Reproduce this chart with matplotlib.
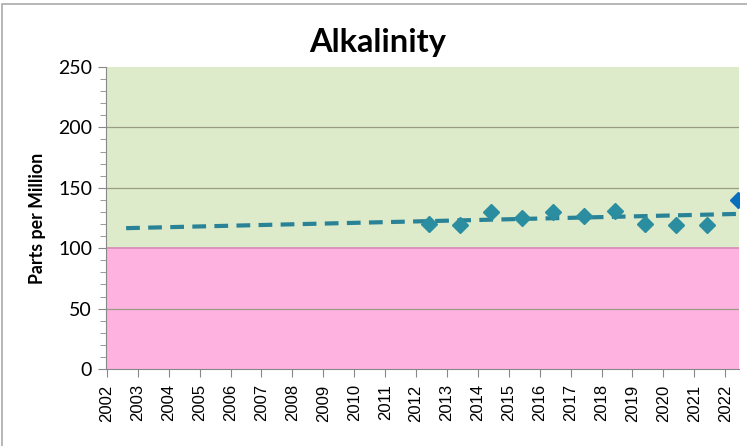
import matplotlib.pyplot as plt
from matplotlib.patches import Rectangle
from matplotlib.ticker import MultipleLocator

# sample dates (decimal year) and alkalinity values
dates = [2012.42, 2013.42, 2014.42, 2015.42, 2016.42, 2017.42,
         2018.42, 2019.42, 2020.42, 2021.42, 2022.42]
values = [120, 119, 130, 125, 130, 127, 131, 120, 119, 119, 140]

# trend line end points
trend_x = [2002.62, 2022.45]
trend_y = [116.6, 128.4]

years = list(range(2002, 2023))

# bands
good_range = (100, 250)
bad_range = (0, 100)

fig = plt.figure(figsize=(7.47, 4.46), dpi=100)
ax = fig.add_axes([0.1419, 0.1726, 0.8475, 0.6772])

ax.axhspan(*good_range, color='#DDEBCA', zorder=0)
ax.axhspan(*bad_range, color='#FDB2E0', zorder=0)
for g in [50, 150, 200]:
    ax.axhline(g, color='#9C9C86', lw=0.9, zorder=1)
ax.axhline(100, color='#D98AB8', lw=1.2, zorder=1)

ax.plot(trend_x, trend_y, color='#2A8297', lw=3, dashes=(3.3, 2.0), zorder=2)
ax.plot(dates[:-1], values[:-1], 'D', color='#2A8DA0', ms=8.3, zorder=3)
ax.plot(dates[-1:], values[-1:], 'D', color='#0A6EBE', ms=8.3, zorder=3)

ax.set_xlim(2001.97, 2022.45)
ax.set_ylim(0, 250)
ax.set_xticks(years)
ax.set_xticklabels([str(y) for y in years], rotation=90,
                   fontfamily='Liberation Sans', fontsize=12)
ax.yaxis.set_major_locator(MultipleLocator(50))
ax.yaxis.set_minor_locator(MultipleLocator(10))
for lab in ax.get_yticklabels():
    lab.set_fontfamily('Lato')
    lab.set_fontsize(14)
ax.tick_params(axis='both', which='both', color='#888888', direction='out')
ax.tick_params(axis='y', which='major', length=6, pad=4)
ax.tick_params(axis='y', which='minor', length=4)
ax.tick_params(axis='x', length=6, pad=5)

for side in ['top', 'right']:
    ax.spines[side].set_visible(False)
ax.spines['left'].set_color('#888888')
ax.spines['bottom'].set_color('#888888')

ax.set_ylabel('Parts per Million', fontfamily='Lato', fontweight='bold',
              fontsize=12.8, labelpad=9)
fig.text(0.506, 0.883, 'Alkalinity', ha='center', va='baseline',
         fontfamily='Lato', fontweight='bold', fontsize=23.5)

fig.patches.append(Rectangle((0.003, -0.02), 1.1, 1.01, transform=fig.transFigure,
                             fill=False, edgecolor='#AAAAAA', lw=1.2))

fig.savefig('out.png', dpi=100)
